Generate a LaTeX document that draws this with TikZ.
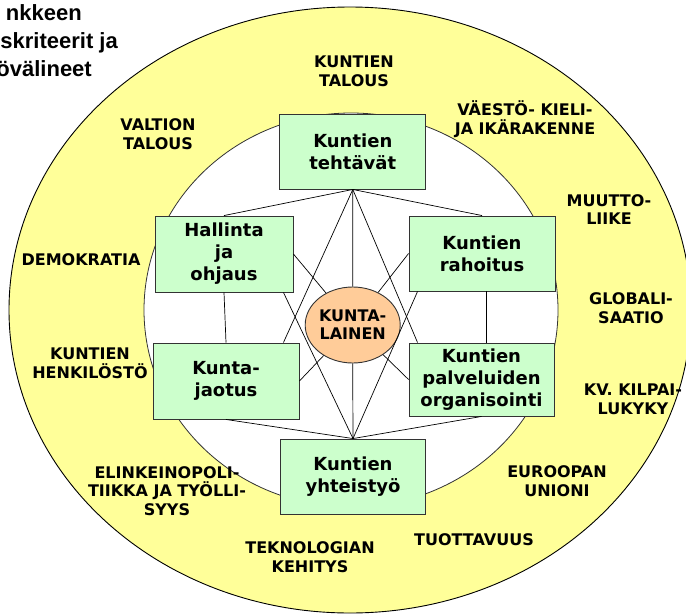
\documentclass[tikz,border=0pt]{standalone}
\usepackage{fontspec}
\setmainfont{DejaVu Sans}
\newfontfamily\arialf{Liberation Sans}
\usetikzlibrary{calc,shapes.geometric}
\definecolor{ringyellow}{RGB}{255,255,153}
\definecolor{boxgreen}{RGB}{204,255,204}
\definecolor{peach}{RGB}{255,204,153}
\begin{document}
\begin{tikzpicture}[x=1pt,y=-1pt,
  box/.style={draw=black!80, line width=0.9pt, fill=boxgreen, inner sep=0pt, align=center,
    font=\fontsize{18}{22}\selectfont\bfseries},
  ring/.style={inner sep=0pt, align=center, font=\fontsize{16}{18.7}\selectfont\bfseries},
  link/.style={draw=black, line width=0.7pt},
  title/.style={inner sep=0pt, anchor=base east, font=\arialf\fontsize{22}{27}\selectfont\bfseries}]
\useasboundingbox (0,0) rectangle (686,614);
% rings
\path[draw=black, line width=0.9pt, fill=ringyellow] (350,310) ellipse [x radius=341, y radius=303];
\path[draw=black!80, line width=0.8pt, fill=white] (351,310) ellipse [x radius=207, y radius=197];
% nodes
\node[box, minimum width=146pt, minimum height=75pt] (teh) at (352.8,151.5) {Kuntien\\tehtävät};
\node[box, minimum width=138pt, minimum height=76pt] (hal) at (224,254) {Hallinta\\ja\\ohjaus};
\node[box, minimum width=146pt, minimum height=75pt] (rah) at (482,253.5) {Kuntien\\rahoitus};
\node[box, minimum width=146pt, minimum height=76pt] (jao) at (226,381) {Kunta-\\jaotus};
\node[box, minimum width=145pt, minimum height=73pt] (pal) at (481.5,379.5) {Kuntien\\palveluiden\\organisointi};
\node[box, minimum width=145pt, minimum height=75pt] (yht) at (353,476.5) {Kuntien\\yhteistyö};
\node[draw=black!80, line width=0.9pt, fill=peach, ellipse, minimum width=84pt, minimum height=76pt,
  inner sep=0pt, align=center, font=\fontsize{16}{18}\selectfont\bfseries] (kl) at (352.7,325) {KUNTA-\\LAINEN};
% connectors
\draw[link] (teh.south) -- (hal.north);
\draw[link] (teh.south) -- (rah.north);
\draw[link] (teh.south) -- (kl.north);
\draw[link] (teh.south) -- ([xshift=-16pt]jao.north east);
\draw[link] (teh.south) -- ([xshift=9pt]pal.north west);
\draw[link] (yht.north) -- (jao.south);
\draw[link] (yht.north) -- (pal.south);
\draw[link] (yht.north) -- (kl.south);
\draw[link] (yht.north) -- ([xshift=-10pt]hal.south east);
\draw[link] (yht.north) -- ([xshift=9pt]rah.south west);
\draw[link] (hal.south) -- (jao.north);
\draw[link] ([xshift=4.7pt]rah.south) -- ([xshift=5.2pt]pal.north);
\draw[link] (hal.east) -- (kl);
\draw[link] (rah.west) -- (kl);
\draw[link] (jao.east) -- (kl);
\draw[link] (pal.west) -- (kl);
% ring labels
\node[ring] (l1) at (354,71) {KUNTIEN\\TALOUS};
\node[ring] (l2) at (158,134) {VALTION\\TALOUS};
\node[ring] (l3) at (525,119) {VÄESTÖ- KIELI-\\JA IKÄRAKENNE};
\node[ring] (l4) at (609,209.5) {MUUTTO-\\LIIKE};
\node[ring] (l5) at (631,308) {GLOBALI-\\SAATIO};
\node[ring] (l6) at (633,399) {KV. KILPAI-\\LUKYKY};
\node[ring] (l7) at (557,481.5) {EUROOPAN\\UNIONI};
\node[ring] (l8) at (474,540) {TUOTTAVUUS};
\node[ring] (l9) at (310,557) {TEKNOLOGIAN\\KEHITYS};
\node[ring] (l10) at (167,491) {ELINKEINOPOLI-\\TIIKKA JA TYÖLLI-\\SYYS};
\node[ring] (l11) at (90,363.5) {KUNTIEN\\HENKILÖSTÖ};
\node[ring] (l12) at (81,259.6) {DEMOKRATIA};
% title fragment
\node[title] (t1) at (82,20.7) {nkkeen};
\node[title] (t2) at (118,48.3) {skriteerit ja};
\node[title] (t3) at (92,76) {övälineet};
\end{tikzpicture}
\end{document}
